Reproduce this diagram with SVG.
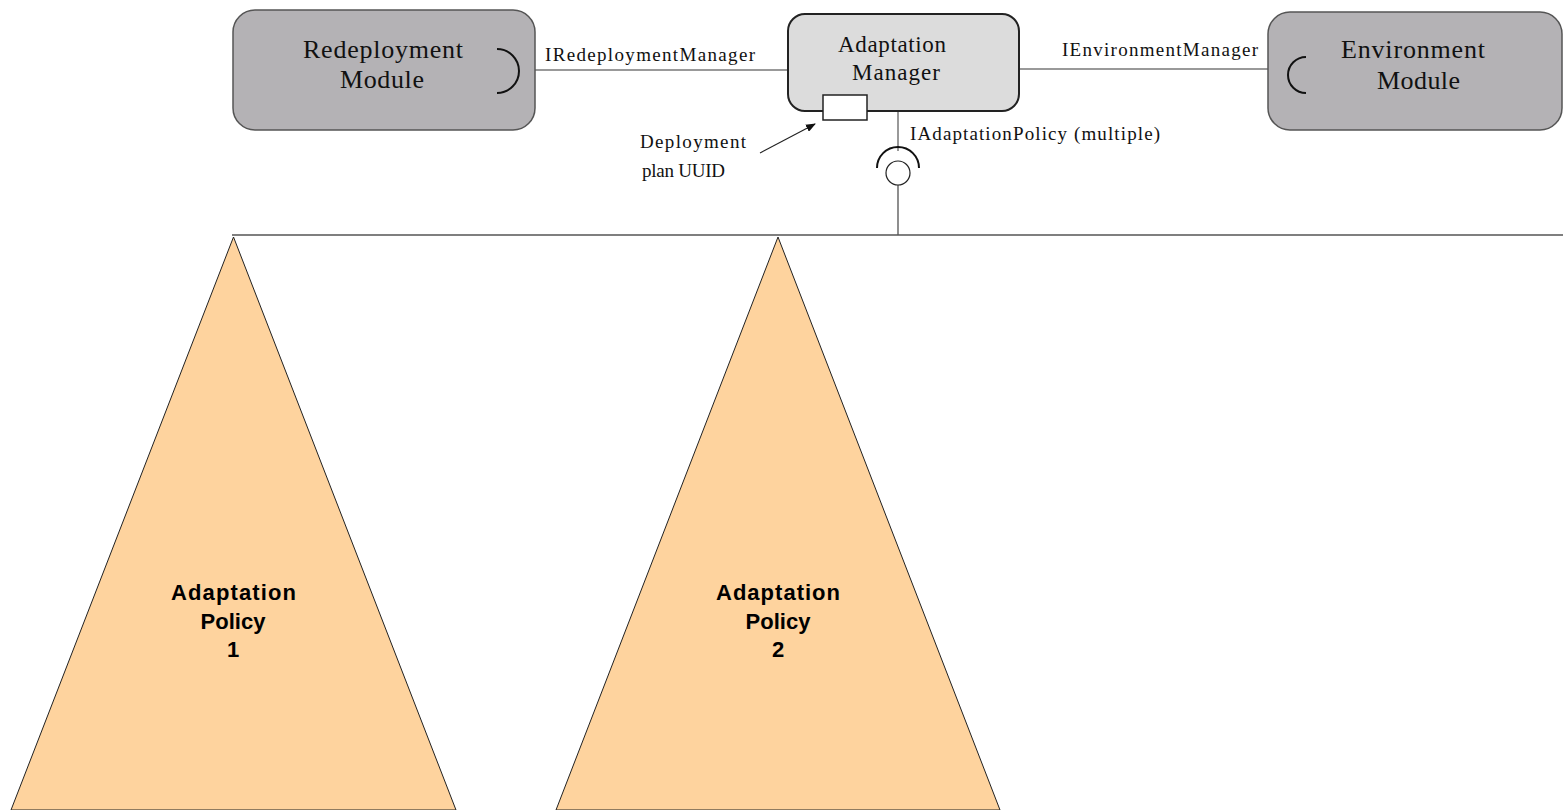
<svg xmlns="http://www.w3.org/2000/svg" width="1563" height="810" viewBox="0 0 1563 810">
<style>
.mod{fill:#b4b2b5;stroke:#555;stroke-width:1.5}
.mgr{fill:#dcdcdc;stroke:#222;stroke-width:2}
.serif{font-family:"Liberation Serif","Times New Roman",serif;fill:#111}
.big{font-size:26px}
.mid{font-size:23px}
.sm{font-size:19px}
.pol{fill:#fed39e;stroke:#222;stroke-width:1}
.pt{font-family:"Liberation Sans",Arial,sans-serif;font-weight:bold;font-size:22px;fill:#000}
.wire{stroke:#777;stroke-width:1.5;fill:none}
.sock{stroke:#111;stroke-width:2;fill:none}
</style>
<defs>
<marker id="ah" markerWidth="10" markerHeight="8" refX="9" refY="4" orient="auto" markerUnits="userSpaceOnUse">
<path d="M0,0 L10,4 L0,8 z" fill="#111"/>
</marker>
</defs>
<g id="connectors">
<line class="wire" x1="520" y1="70" x2="788" y2="70"/>
<line class="wire" x1="1019" y1="69" x2="1288" y2="69"/>
<line class="wire" x1="898" y1="111" x2="898" y2="151"/>
<line x1="898" y1="185" x2="898" y2="235" stroke="#444" stroke-width="1.2"/>
<line x1="232" y1="235" x2="1563" y2="235" stroke="#555" stroke-width="1.5"/>
<line x1="760" y1="153" x2="815" y2="124" stroke="#222" stroke-width="1.2" marker-end="url(#ah)"/>
<path class="sock" d="M877,168 A21,21 0 0 1 919,168"/>
<circle cx="898" cy="173" r="12" fill="#fff" stroke="#222" stroke-width="1.2"/>
</g>
<g id="redeployment">
<rect class="mod" x="233" y="10" width="302" height="120" rx="22"/>
<text class="serif big" x="303" y="58" textLength="160">Redeployment</text>
<text class="serif big" x="340" y="88" textLength="84">Module</text>
<path class="sock" d="M497,49 A22,22 0 0 1 497,93"/>
</g>
<g id="manager">
<rect class="mgr" x="788" y="14" width="231" height="97" rx="17"/>
<text class="serif mid" x="838" y="52" textLength="108">Adaptation</text>
<text class="serif mid" x="852" y="80" textLength="88">Manager</text>
<rect x="823" y="95" width="44" height="25" fill="#fff" stroke="#222" stroke-width="1.5"/>
</g>
<g id="environment">
<rect class="mod" x="1268" y="12" width="294" height="118" rx="22"/>
<text class="serif big" x="1341" y="58" textLength="144">Environment</text>
<text class="serif big" x="1377" y="89" textLength="83">Module</text>
<path class="sock" d="M1306,57 A18,18 0 0 0 1306,93"/>
</g>
<g id="labels">
<text class="serif sm" x="545" y="61" textLength="210">IRedeploymentManager</text>
<text class="serif sm" x="1062" y="56" textLength="196">IEnvironmentManager</text>
<text class="serif sm" x="910" y="140" textLength="250">IAdaptationPolicy (multiple)</text>
<text class="serif sm" x="640" y="148" textLength="106">Deployment</text>
<text class="serif sm" x="642" y="177" textLength="83">plan UUID</text>
</g>
<g id="policy1">
<polygon class="pol" points="233.5,237 456,810 11,810"/>
<text class="pt" x="171" y="600" textLength="125">Adaptation</text>
<text class="pt" x="233" y="629" text-anchor="middle">Policy</text>
<text class="pt" x="233" y="657" text-anchor="middle">1</text>
</g>
<g id="policy2">
<polygon class="pol" points="778,237 1000,810 556,810"/>
<text class="pt" x="716" y="600" textLength="124">Adaptation</text>
<text class="pt" x="778" y="629" text-anchor="middle">Policy</text>
<text class="pt" x="778" y="657" text-anchor="middle">2</text>
</g>
</svg>
